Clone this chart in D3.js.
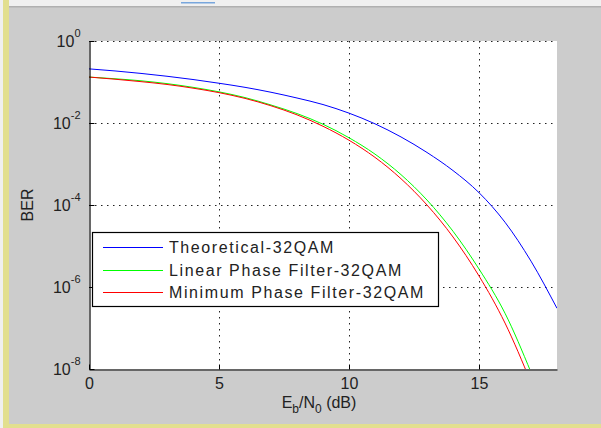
<!DOCTYPE html>
<html>
<head>
<meta charset="utf-8">
<script src="https://cdn.jsdelivr.net/npm/d3@7.9.0/dist/d3.min.js"></script>
<style>
  body { margin: 0; background: #cccccc; }
  svg { display: block; font-family: "Liberation Sans", Arial, sans-serif; }
</style>
</head>
<body>
<svg id="chart" width="601" height="428"></svg>
<script>
// Eb/N0 (dB) sample points
const ebno = [0, 1, 2, 3, 4, 5, 6, 7, 8, 9, 10, 11, 12, 13, 14, 15, 16, 17, 18];

// BER values
const theoretical = [0.209, 0.186, 0.162, 0.138, 0.115, 0.0933, 0.0741, 0.0562, 0.0407, 0.0282,
    0.0174, 9.55e-3, 4.57e-3, 1.91e-3, 6.92e-4, 2.00e-4, 3.80e-5, 4.27e-6, 3.02e-7];
const linearPhase = [0.132, 0.120, 0.107, 0.0912, 0.0741, 0.0575, 0.0417, 0.0275, 0.0170, 9.33e-3,
    4.37e-3, 1.74e-3, 5.50e-4, 1.32e-4, 2.29e-5, 2.75e-6, 2.29e-7, 8.32e-9];
const minimumPhase = [0.132, 0.117, 0.102, 0.0871, 0.0708, 0.0550, 0.0398, 0.0263, 0.0158, 8.32e-3,
    3.80e-3, 1.45e-3, 4.37e-4, 1.00e-4, 1.66e-5, 1.86e-6, 1.32e-7, 4.68e-9];

const seriesNames = ['Theoretical-32QAM', 'Linear Phase Filter-32QAM', 'Minimum Phase Filter-32QAM'];
const seriesColors = ['#0000ff', '#00ff00', '#ff0000'];

const xTicks = [0, 5, 10, 15];
const yTicks = [1, 1e-2, 1e-4, 1e-6, 1e-8];
const yTickExp = ['0', '-2', '-4', '-6', '-8'];

const svg = d3.select('#chart');
const W = 601, H = 428;
const pLeft = 89, pRight = 557, pTop = 41, pBottom = 369;

// window chrome
svg.append('rect').attr('width', W).attr('height', H).attr('fill', '#cccccc');
svg.append('rect').attr('x', 0).attr('y', 0).attr('width', 3).attr('height', H).attr('fill', '#f0f0f0');
svg.append('rect').attr('x', 3).attr('y', 0).attr('width', 6).attr('height', H).attr('fill', '#e2df8f');
svg.append('rect').attr('x', 3).attr('y', 424).attr('width', W).attr('height', 4).attr('fill', '#e2df8f');
svg.append('rect').attr('x', 9).attr('y', 0).attr('width', W).attr('height', 6).attr('fill', '#f0f0f0');
svg.append('rect').attr('x', 9).attr('y', 6).attr('width', W).attr('height', 1.5).attr('fill', '#b0b0b0');
svg.append('rect').attr('x', 181).attr('y', 2).attr('width', 34).attr('height', 1.5).attr('fill', '#78a6dc');

const x = d3.scaleLinear().domain([0, 18]).range([pLeft, pRight]);
const y = d3.scaleLog().domain([1e-8, 1]).range([pBottom, pTop]);

// plot area
svg.append('rect')
    .attr('x', pLeft).attr('y', pTop)
    .attr('width', pRight - pLeft).attr('height', pBottom - pTop)
    .attr('fill', '#ffffff');

// dotted grid
const grid = svg.append('g').attr('stroke', '#222').attr('stroke-width', 1)
    .attr('stroke-dasharray', '1.5,4.5');
xTicks.filter(d => d > 0).forEach(d => {
    grid.append('line')
        .attr('x1', Math.round(x(d)) + 0.5).attr('x2', Math.round(x(d)) + 0.5)
        .attr('y1', pTop).attr('y2', pBottom);
});
yTicks.filter(d => d > 1e-8).forEach(d => {
    grid.append('line')
        .attr('x1', pLeft).attr('x2', pRight)
        .attr('y1', Math.round(y(d)) + 0.5).attr('y2', Math.round(y(d)) + 0.5);
});

// curves
svg.append('clipPath').attr('id', 'clip')
    .append('rect').attr('x', pLeft).attr('y', pTop)
    .attr('width', pRight - pLeft).attr('height', pBottom - pTop);

const line = d3.line()
    .x((d, i) => x(ebno[i]))
    .y(d => y(d))
    .curve(d3.curveMonotoneX);

[theoretical, linearPhase, minimumPhase].forEach((values, i) => {
    svg.append('path')
        .attr('clip-path', 'url(#clip)')
        .attr('d', line(values))
        .attr('fill', 'none')
        .attr('stroke', seriesColors[i])
        .attr('stroke-width', 1);
});

// axes
const xAxis = d3.axisBottom(x).tickValues(xTicks).tickFormat(d3.format('d'))
    .tickSizeInner(-5).tickSizeOuter(0).tickPadding(8);
const gx = svg.append('g').attr('transform', `translate(0,${pBottom + 0.5})`).call(xAxis);

const yAxis = d3.axisLeft(y).tickValues(yTicks).tickFormat(() => '')
    .tickSizeInner(-5).tickSizeOuter(0).tickPadding(9);
const gy = svg.append('g').attr('transform', `translate(${pLeft + 0.5},0)`).call(yAxis);

[gx, gy].forEach(g => {
    g.select('.domain').attr('stroke', '#000').attr('stroke-width', 1.2);
    g.selectAll('.tick line').attr('stroke', '#000');
    g.selectAll('text').attr('fill', '#222');
    g.attr('font-family', null);
});
gx.selectAll('text').attr('font-size', 16);

gy.selectAll('.tick text').each(function (d, i) {
    const t = d3.select(this)
        .attr('text-anchor', 'end')
        .attr('dy', '0.36em')
        .attr('font-size', 16);
    t.append('tspan').text('10');
    t.append('tspan').attr('dy', -10).attr('font-size', 11).text(yTickExp[i]);
});

// axis labels
const xl = svg.append('text')
    .attr('x', (pLeft + pRight) / 2 - 4).attr('y', 408)
    .attr('text-anchor', 'middle').attr('font-size', 16).attr('fill', '#222');
xl.append('tspan').text('E');
xl.append('tspan').attr('font-size', 12).attr('dy', 5).text('b');
xl.append('tspan').attr('dy', -5).text('/N');
xl.append('tspan').attr('font-size', 12).attr('dy', 5).text('0');
xl.append('tspan').attr('dy', -5).text(' (dB)');

svg.append('text')
    .attr('transform', `translate(33,${(pTop + pBottom) / 2}) rotate(-90)`)
    .attr('text-anchor', 'middle').attr('font-size', 16).attr('fill', '#222')
    .text('BER');

// legend
const legend = svg.append('g');
legend.append('rect')
    .attr('x', 92.5).attr('y', 232.5).attr('width', 346).attr('height', 74)
    .attr('fill', '#fff').attr('stroke', '#000').attr('stroke-width', 1.2);

const rowY = [247.5, 270.5, 292.5];
seriesNames.forEach((name, i) => {
    legend.append('line')
        .attr('x1', 103).attr('x2', 163).attr('y1', rowY[i]).attr('y2', rowY[i])
        .attr('stroke', seriesColors[i]).attr('stroke-width', 1);
    legend.append('text')
        .attr('x', 169).attr('y', rowY[i]).attr('dy', '0.36em')
        .attr('font-size', 16).attr('letter-spacing', 1.6).attr('fill', '#222')
        .text(name);
});
</script>
</body>
</html>
